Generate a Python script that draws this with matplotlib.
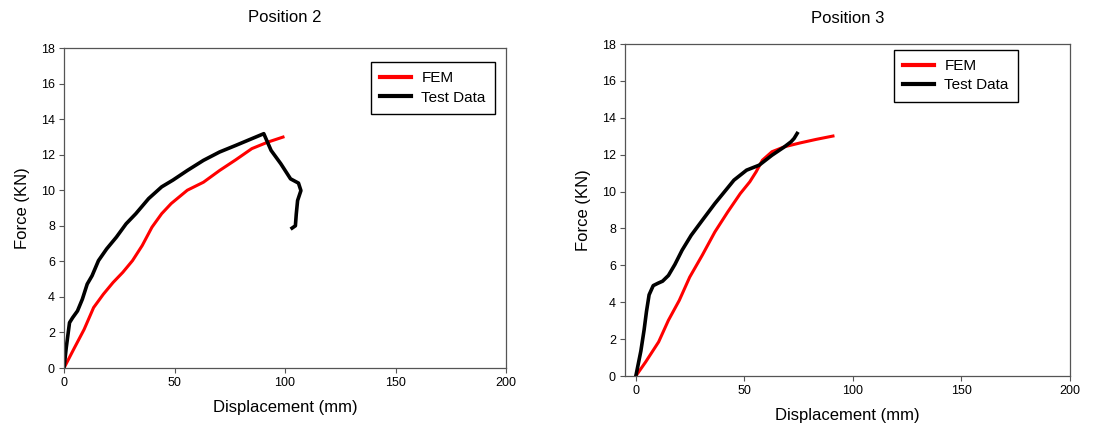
import matplotlib
matplotlib.use("Agg")
import matplotlib.pyplot as plt

plt.rcParams['font.family'] = ['Liberation Sans', 'DejaVu Sans']

# Position 2 data (displacement mm, force kN)
fem2_x = [0, 4.7, 9.1, 13.4, 17.8, 22.2, 26.6, 31.0, 35.4, 39.8, 44.2, 48.5, 55.8, 63.1,
          70.4, 77.7, 85.0, 92.3, 99.1]
fem2_y = [0, 1.13, 2.17, 3.40, 4.15, 4.81, 5.38, 6.04, 6.89, 7.92, 8.68, 9.25, 10.0, 10.45,
          11.11, 11.71, 12.34, 12.71, 12.99]
test2_x = [0, 1.0, 2.5, 3.9, 6.1, 8.3, 10.5, 12.7, 15.6, 19.3, 23.7, 28.1, 32.5, 38.3, 44.2,
           49.3, 55.8, 63.1, 70.4, 77.7, 85.0, 90.4, 93.7, 98.1, 102.5, 106.1, 107.2, 105.7,
           105.1, 104.7, 103.2]
test2_y = [0, 1.13, 2.55, 2.83, 3.21, 3.87, 4.72, 5.19, 6.04, 6.70, 7.36, 8.11, 8.68, 9.53, 10.19,
           10.57, 11.11, 11.68, 12.15, 12.52, 12.90, 13.18, 12.24, 11.49, 10.64, 10.40, 9.98, 9.42,
           8.66, 8.00, 7.87]

# Position 3 data
fem3_x = [0, 4.5, 10.5, 15.0, 20.0, 24.8, 30.6, 36.4, 42.3, 48.1, 52.5, 55.4, 58.3, 62.7,
          68.5, 75.8, 83.1, 90.8]
fem3_y = [0, 0.76, 1.85, 3.02, 4.10, 5.36, 6.55, 7.81, 8.89, 9.89, 10.53, 11.07, 11.70, 12.16,
          12.43, 12.64, 12.83, 13.01]
test3_x = [0, 2.3, 3.8, 4.9, 6.1, 8.0, 10.2, 12.3, 15.0, 18.0, 21.3, 25.5, 30.6, 36.4, 45.2,
           51.0, 56.8, 62.7, 68.5, 71.5, 72.9, 74.3]
test3_y = [0, 1.35, 2.50, 3.50, 4.40, 4.90, 5.03, 5.14, 5.45, 6.05, 6.82, 7.63, 8.44, 9.35,
           10.62, 11.16, 11.43, 11.97, 12.43, 12.70, 12.88, 13.15]

panels = [
    ("Position 2", fem2_x, fem2_y, test2_x, test2_y, [64/1111, 68/436, 442/1111, 320/436], (0, 200), 19, (0.975, 0.956)),
    ("Position 3", fem3_x, fem3_y, test3_x, test3_y, [625/1111, 60/436, 445/1111, 332/436], (-5, 200), 15, (0.883, 0.982)),
]

fig = plt.figure(figsize=(11.11, 4.36), dpi=100)
spine_col = '#555555'

for title, fx, fy, tx, ty, rect, xlim, tpad, lpos in panels:
    ax = fig.add_axes(rect)
    ax.plot(fx, fy, color='#ff0000', lw=2.2, label='FEM')
    ax.plot(tx, ty, color='black', lw=2.6, label='Test Data')
    ax.set_xlim(*xlim)
    ax.set_ylim(0, 18)
    ax.set_xticks([0, 50, 100, 150, 200])
    ax.set_yticks(range(0, 19, 2))
    ax.tick_params(direction='out', length=3.5, width=0.8, color=spine_col, labelsize=9, pad=3)
    for s in ax.spines.values():
        s.set_color(spine_col)
        s.set_linewidth(0.9)
    ax.set_title(title, fontsize=12, pad=tpad)
    ax.set_xlabel("Displacement (mm)", fontsize=12, labelpad=8)
    ax.set_ylabel("Force (KN)", fontsize=12, labelpad=8)
    leg = ax.legend(loc='upper right', bbox_to_anchor=lpos, fontsize=11, fancybox=False,
                    edgecolor='black', framealpha=1, handlelength=2.0, borderpad=0.6,
                    labelspacing=0.35, borderaxespad=0, handletextpad=0.7)
    leg.get_frame().set_linewidth(1.0)
    for line in leg.get_lines():
        line.set_linewidth(3)

fig.savefig("out.png", dpi=100)
